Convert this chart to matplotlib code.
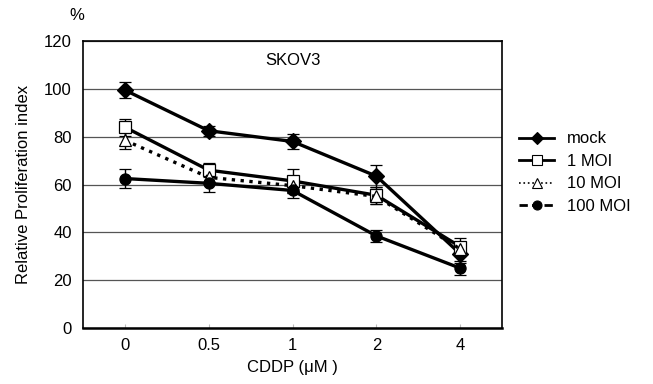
import matplotlib.pyplot as plt
from matplotlib.lines import Line2D

doses = ['0', '0.5', '1', '2', '4']

mock = [99.5, 82.5, 78.0, 63.5, 31.0]
mock_err = [3.5, 2.0, 3.0, 4.5, 4.0]
moi1 = [84.0, 66.0, 61.5, 55.5, 34.0]
moi1_err = [3.5, 3.0, 5.0, 3.5, 3.5]
moi10 = [78.5, 63.0, 59.5, 55.0, 33.0]
moi10_err = [3.5, 2.5, 3.0, 3.0, 3.0]
moi100 = [62.5, 60.5, 57.5, 38.5, 25.0]
moi100_err = [4.0, 3.5, 3.0, 2.5, 3.0]

plt.rcParams['font.family'] = ['Liberation Sans', 'DejaVu Sans']


def main():
    fig = plt.figure(figsize=(6.53, 3.84), dpi=100)
    ax = fig.add_axes([0.127, 0.146, 0.642, 0.747])

    x = list(range(len(doses)))
    # label, values, errors, marker, face, plot style, legend style
    series = [
        ('mock', mock, mock_err, 'D', 'black', '-', '-'),
        ('1 MOI', moi1, moi1_err, 's', 'white', '-', '-'),
        ('10 MOI', moi10, moi10_err, '^', 'white', ':', ':'),
        ('100 MOI', moi100, moi100_err, 'o', 'black', '-', (0, (3, 1.5))),
    ]
    handles = []
    for label, vals, err, m, fc, ls, lls in series:
        ax.errorbar(x, vals, yerr=err, color='black', marker=m, markerfacecolor=fc,
                    markeredgecolor='black', markeredgewidth=0.9, markersize=8,
                    linestyle=ls, linewidth=2.4, elinewidth=1.0, capsize=4,
                    capthick=1.0)
        handles.append(Line2D([], [], color='black', marker=m, markerfacecolor=fc,
                              markeredgecolor='black', markeredgewidth=0.8,
                              markersize=6.5, linestyle=lls,
                              linewidth=1.2 if lls == ':' else 2.0, label=label))

    ax.set_xlim(-0.5, 4.5)
    ax.set_ylim(0, 120)
    ax.set_yticks(range(0, 121, 20))
    ax.set_xticks(x)
    ax.set_xticklabels(doses)
    ax.yaxis.grid(True, color='#555555', linewidth=0.9)
    ax.set_axisbelow(True)
    for s in ax.spines.values():
        s.set_linewidth(1.2)
    ax.spines['bottom'].set_linewidth(1.8)
    ax.tick_params(axis='x', length=3, direction='in', color='#bbbbbb', labelsize=12, pad=7)
    ax.tick_params(axis='y', length=0, labelsize=12, pad=8)

    ax.text(2.0, 112, 'SKOV3', ha='center', va='center', fontsize=12)
    fig.text(0.118, 0.96, '%', ha='center', va='center', fontsize=12)
    ax.set_ylabel('Relative Proliferation index', fontsize=12, labelpad=9)
    ax.set_xlabel('CDDP (\u03bcM )', fontsize=12, labelpad=5)

    fig.legend(handles=handles, loc='upper left', bbox_to_anchor=(0.777, 0.688),
               frameon=False, fontsize=12, handlelength=2.1, handletextpad=0.8,
               labelspacing=0.45, borderpad=0.2)

    fig.savefig('out.png', dpi=100)


if __name__ == '__main__':
    main()
